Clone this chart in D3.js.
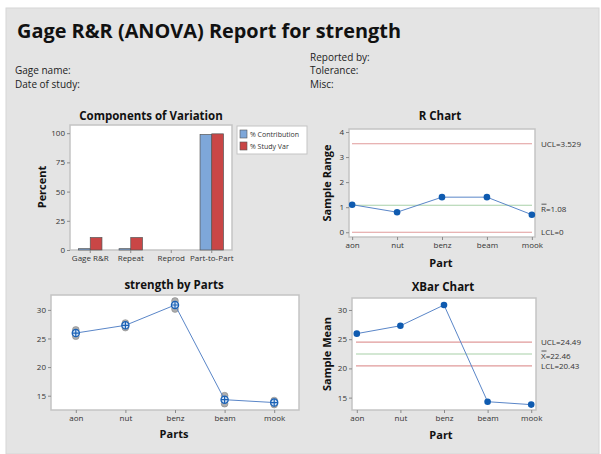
<!DOCTYPE html>
<html>
<head>
<meta charset="utf-8">
<script src="https://cdn.jsdelivr.net/npm/d3@7"></script>
<style>
  html, body { margin: 0; padding: 0; background: #ffffff; }
  svg { display: block; font-family: "Open Sans", "Noto Sans", sans-serif; }
</style>
</head>
<body>
<svg id="report" width="601" height="454"></svg>
<script>
// ---- data ----
const parts = ["aon", "nut", "benz", "beam", "mook"];

const components = ["Gage R&R", "Repeat", "Reprod", "Part-to-Part"];
const pctContribution = [1.14, 1.14, 0, 98.86];
const pctStudyVar = [10.68, 10.68, 0, 99.43];
const componentSeries = ["% Contribution", "% Study Var"];

const sampleRange = [1.1, 0.8, 1.4, 1.4, 0.7];
const rBar = 1.08, rUCL = 3.529, rLCL = 0;

const partMeans = [25.95, 27.3, 30.85, 14.3, 13.8];
const obsLow  = [25.4, 26.9, 30.15, 13.6, 13.45];
const obsHigh = [26.5, 27.7, 31.55, 15.0, 14.15];
const xBar = 22.46, xUCL = 24.49, xLCL = 20.43;

const ticksPercent = [0, 25, 50, 75, 100];
const ticksRange = [0, 1, 2, 3, 4];
const ticksStrength = [15, 20, 25, 30];

// ---- styles ----
const colBlueBar = "#7ea7d9", colRedBar = "#c94646";
const colLine = "#5a86c8", colMarker = "#0f5bb0";
const colLimit = "#e09a9a", colCenter = "#a8d0a8";
const frameCol = "#c4c4c4", tickCol = "#8a8a8a", textCol = "#222";

const svg = d3.select("#report");

// page background
svg.append("rect").attr("x", 6).attr("y", 8).attr("width", 593).attr("height", 446)
  .attr("fill", "#e4e4e4").attr("stroke", "#d6d6d6");

// header
svg.append("text").attr("x", 17).attr("y", 38)
  .attr("font-size", 20).attr("font-weight", 700).attr("fill", "#111")
  .attr("textLength", 384).attr("lengthAdjust", "spacingAndGlyphs")
  .text("Gage R&R (ANOVA) Report for strength");

const hdr = [
  ["Gage name:", 15, 74], ["Date of study:", 15, 88],
  ["Reported by:", 310, 61], ["Tolerance:", 310, 74], ["Misc:", 310, 88]
];
svg.selectAll("text.hdr").data(hdr).join("text").attr("class", "hdr")
  .attr("x", d => d[1]).attr("y", d => d[2])
  .attr("font-size", 10).attr("fill", textCol).text(d => d[0]);

// helpers
function plotFrame(x0, y0, x1, y1) {
  svg.append("rect").attr("x", x0).attr("y", y0).attr("width", x1 - x0).attr("height", y1 - y0)
    .attr("fill", "#fff").attr("stroke", frameCol).attr("stroke-width", 1.5);
}
function title(txt, x, y) {
  svg.append("text").attr("x", x).attr("y", y).attr("text-anchor", "middle")
    .attr("font-size", 11.5).attr("font-weight", 700).attr("fill", "#111").text(txt);
}
function xLabel(txt, x, y) {
  svg.append("text").attr("x", x).attr("y", y).attr("text-anchor", "middle")
    .attr("font-size", 11).attr("font-weight", 700).attr("fill", "#111").text(txt);
}
function yLabel(txt, x, y) {
  svg.append("text").attr("transform", `translate(${x},${y}) rotate(-90)`).attr("text-anchor", "middle")
    .attr("font-size", 11).attr("font-weight", 700).attr("fill", "#111").text(txt);
}
function styleAxis(g) {
  g.select(".domain").remove();
  g.selectAll(".tick line").attr("stroke", tickCol);
  g.selectAll(".tick text").attr("fill", "#333").attr("font-size", 8)
    .attr("font-family", "'Open Sans', sans-serif");
}
function leftAxis(scale, ticks, x) {
  svg.append("g").attr("transform", `translate(${x},0)`)
    .call(d3.axisLeft(scale).tickValues(ticks).tickFormat(d3.format("d")).tickSize(3).tickPadding(2))
    .call(styleAxis);
}
function bottomAxis(scale, y) {
  svg.append("g").attr("transform", `translate(0,${y})`)
    .call(d3.axisBottom(scale).tickSize(3).tickPadding(2))
    .call(styleAxis);
}

// ===== Components of Variation =====
{
  const x = d3.scaleBand().domain(components).range([70, 232]);
  const x1 = d3.scaleBand().domain(componentSeries).range([0, x.bandwidth()]).paddingOuter(0.73);
  const y = d3.scaleLinear().domain([0, 107]).range([250, 125]);
  plotFrame(70, 125, 232, 250);
  const rows = components.map((c, i) => ({ c, vals: [pctContribution[i], pctStudyVar[i]] }));
  const cols = [colBlueBar, colRedBar];
  svg.append("g").selectAll("g").data(rows).join("g")
    .attr("transform", d => `translate(${x(d.c)},0)`)
    .selectAll("rect").data(d => d.vals.map((v, j) => ({ v, s: componentSeries[j], j })))
    .join("rect")
    .attr("x", d => x1(d.s)).attr("width", x1.bandwidth())
    .attr("y", d => y(d.v)).attr("height", d => y(0) - y(d.v))
    .attr("fill", d => cols[d.j]).attr("stroke", "#555").attr("stroke-width", 0.7);
  leftAxis(y, ticksPercent, 70);
  bottomAxis(x, 250);
  title("Components of Variation", 151, 120);
  yLabel("Percent", 46, 187);

  // legend
  const lg = svg.append("g");
  lg.append("rect").attr("x", 237).attr("y", 126).attr("width", 70).attr("height", 28)
    .attr("fill", "#fff").attr("stroke", frameCol);
  componentSeries.forEach((s, i) => {
    lg.append("rect").attr("x", 240).attr("y", 130 + i * 12).attr("width", 7).attr("height", 8)
      .attr("fill", cols[i]).attr("stroke", "#555").attr("stroke-width", 0.6);
    lg.append("text").attr("x", 250).attr("y", 137 + i * 12).attr("font-size", 7)
      .attr("fill", "#333").text(s);
  });
}

// control chart drawing
function limitLine(x0, x1, yv, col) {
  svg.append("line").attr("x1", x0).attr("x2", x1).attr("y1", yv).attr("y2", yv)
    .attr("stroke", col).attr("stroke-width", 1.1);
}
function overbarLabel(sym, rest, x, y) {
  const t = svg.append("text").attr("x", x).attr("y", y).attr("font-size", 8).attr("fill", "#333");
  t.append("tspan").text(sym);
  t.append("tspan").text(rest);
  svg.append("line").attr("x1", x + 0.5).attr("x2", x + 5.5).attr("y1", y - 8).attr("y2", y - 8)
    .attr("stroke", "#333").attr("stroke-width", 0.8);
}
function seriesLine(x, y, vals) {
  svg.append("path").datum(vals)
    .attr("d", d3.line().x((d, i) => x(parts[i])).y(d => y(d)))
    .attr("fill", "none").attr("stroke", colLine).attr("stroke-width", 1);
}

// ===== R Chart =====
{
  const x = d3.scalePoint().domain(parts).range([349, 535]).padding(0.07);
  const y = d3.scaleLinear().domain([-0.19, 4.12]).range([237, 129]);
  plotFrame(349, 129, 535, 237);
  limitLine(352, 532, y(rUCL), colLimit);
  limitLine(352, 532, y(rBar), colCenter);
  limitLine(352, 532, y(rLCL), colLimit);
  seriesLine(x, y, sampleRange);
  svg.append("g").selectAll("circle").data(sampleRange).join("circle")
    .attr("cx", (d, i) => x(parts[i])).attr("cy", d => y(d)).attr("r", 3.3).attr("fill", colMarker);
  leftAxis(y, ticksRange, 349);
  bottomAxis(x, 237);
  svg.append("text").attr("x", 541).attr("y", y(rUCL) + 3).attr("font-size", 8).attr("fill", "#333")
    .text("UCL=" + rUCL);
  overbarLabel("R", "=" + rBar.toFixed(2), 541, y(rBar) + 7);
  svg.append("text").attr("x", 541).attr("y", y(rLCL) + 3).attr("font-size", 8).attr("fill", "#333")
    .text("LCL=" + rLCL);
  title("R Chart", 440, 120);
  xLabel("Part", 441, 267);
  yLabel("Sample Range", 331, 183);
}

// ===== strength by Parts =====
{
  const x = d3.scalePoint().domain(parts).range([51, 299]).padding(0.5);
  const y = d3.scaleLinear().domain([12.5, 32.6]).range([410, 295]);
  plotFrame(51, 295, 299, 410);
  const obs = [];
  parts.forEach((p, i) => { obs.push({ p, v: obsLow[i] }, { p, v: obsHigh[i] }); });
  svg.append("g").selectAll("circle").data(obs).join("circle")
    .attr("cx", d => x(d.p)).attr("cy", d => y(d.v)).attr("r", 3.4)
    .attr("fill", "#9a9a9a").attr("fill-opacity", 0.8).attr("stroke", "#7d7d7d").attr("stroke-width", 0.5);
  seriesLine(x, y, partMeans);
  const m = svg.append("g").selectAll("g").data(partMeans).join("g")
    .attr("transform", (d, i) => `translate(${x(parts[i])},${y(d)})`);
  m.append("circle").attr("r", 3.6).attr("fill", "#d6e4f5").attr("stroke", "#1b62b6").attr("stroke-width", 1.3);
  m.append("path").attr("d", "M-3.6,0H3.6M0,-3.6V3.6").attr("stroke", "#1b62b6").attr("stroke-width", 1.2);
  leftAxis(y, ticksStrength, 51);
  bottomAxis(x, 410);
  title("strength by Parts", 174, 289);
  xLabel("Parts", 174, 438);
}

// ===== XBar Chart =====
{
  const x = d3.scalePoint().domain(parts).range([352, 536]).padding(0.11);
  const y = d3.scaleLinear().domain([12.88, 32.05]).range([410, 298]);
  plotFrame(352, 298, 536, 410);
  limitLine(356, 532, y(xUCL), colLimit);
  limitLine(356, 532, y(xBar), colCenter);
  limitLine(356, 532, y(xLCL), colLimit);
  seriesLine(x, y, partMeans);
  svg.append("g").selectAll("circle").data(partMeans).join("circle")
    .attr("cx", (d, i) => x(parts[i])).attr("cy", d => y(d)).attr("r", 3.3).attr("fill", colMarker);
  leftAxis(y, ticksStrength, 352);
  bottomAxis(x, 410);
  svg.append("text").attr("x", 541).attr("y", y(xUCL) + 3).attr("font-size", 8).attr("fill", "#333")
    .text("UCL=" + xUCL);
  overbarLabel("X", "=" + xBar, 541, y(xBar) + 5);
  svg.append("text").attr("x", 541).attr("y", y(xLCL) + 3).attr("font-size", 8).attr("fill", "#333")
    .text("LCL=" + xLCL);
  title("XBar Chart", 443, 291);
  xLabel("Part", 441, 439);
  yLabel("Sample Mean", 331, 354);
}
</script>
</body>
</html>
